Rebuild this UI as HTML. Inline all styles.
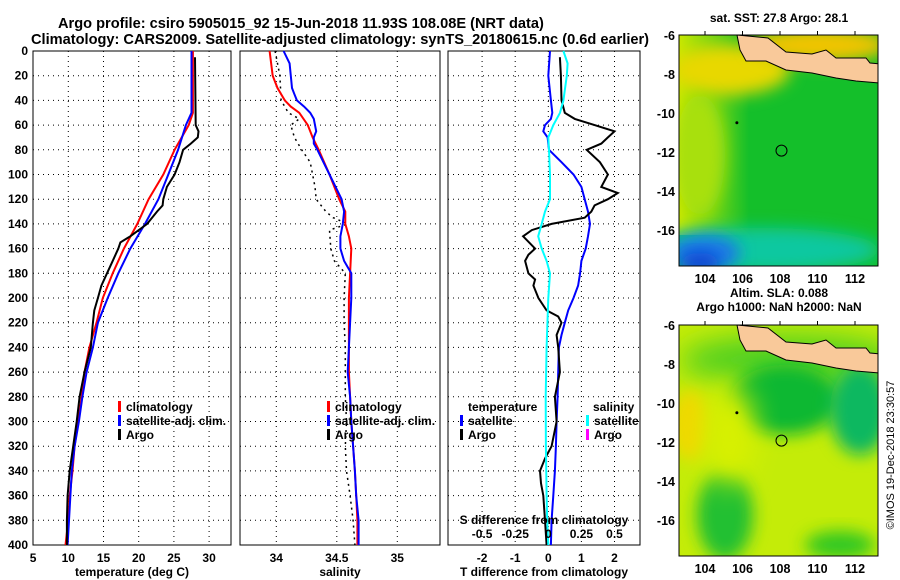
<!DOCTYPE html>
<html><head><meta charset="utf-8">
<style>
html,body{margin:0;padding:0;background:#fff;}
svg{display:block;font-family:"Liberation Sans",sans-serif;font-weight:bold;}
</style></head>
<body>
<svg id="chart" width="900" height="580" viewBox="0 0 900 580" xmlns="http://www.w3.org/2000/svg">
<defs>
<filter id="blur1" x="-50%" y="-50%" width="200%" height="200%"><feGaussianBlur stdDeviation="8"/></filter>
<filter id="blur2" x="-50%" y="-50%" width="200%" height="200%"><feGaussianBlur stdDeviation="14"/></filter>
<clipPath id="clipm1"><rect x="679" y="35" width="199" height="231"/></clipPath>
<clipPath id="clipm2"><rect x="679" y="325" width="199" height="231"/></clipPath>
<linearGradient id="leftyel" x1="0" x2="1" y1="0" y2="0"><stop offset="0" stop-color="#c8e800"/><stop offset="1" stop-color="#c8e800" stop-opacity="0"/></linearGradient>
</defs>
<text x="58" y="28" font-size="14.6">Argo profile: csiro 5905015_92 15-Jun-2018 11.93S 108.08E (NRT data)</text>
<text x="31" y="44" font-size="14.6">Climatology: CARS2009. Satellite-adjusted climatology: synTS_20180615.nc (0.6d earlier)</text>
<g id="panels"></g>
<g id="maps"></g>
<text transform="translate(894,455) rotate(-90)" font-size="11" font-weight="normal" text-anchor="middle">©IMOS 19-Dec-2018 23:30:57</text>
</svg>
<script>
// ---- data ----
const depthsT = [0,50,60,80,100,120,140,160,180,200,220,240,260,280,300,320,340,360,380,400];
const climT   = [27.7,27.7,27.1,25.1,23.5,21.4,19.8,17.9,16.3,14.9,14.0,13.0,12.3,11.9,11.4,10.9,10.6,10.2,10.0,9.6];
const satT    = [27.5,27.5,26.7,25.6,24.2,22.8,20.9,18.8,17.1,15.6,14.2,13.5,12.6,12.0,11.5,10.9,10.5,10.3,10.1,9.9];
const argoDepthT = [5,60,65,70,75,80,90,100,110,120,125,130,140,150,155,160,170,180,190,200,210,220,240,260,280,300,320,340,360,380,400];
const argoT   = [28.0,28.1,28.5,28.4,27.4,26.3,25.8,25.1,24.0,23.5,23.4,22.6,21.2,18.8,17.4,17.1,16.3,15.5,14.7,14.2,13.7,13.5,13.2,12.3,11.6,11.2,10.7,10.2,9.9,9.8,9.8];

const depthsSc = [0,20,30,40,45,50,60,70,80,100,120,130,140,150,160,180,200,240,260,280,300,320,340,360,380,400];
const climS   = [33.945,33.97,34.01,34.07,34.12,34.19,34.26,34.30,34.35,34.44,34.52,34.57,34.57,34.60,34.62,34.61,34.60,34.60,34.60,34.61,34.62,34.635,34.65,34.66,34.67,34.67];
const depthsSs = [0,10,20,30,35,40,45,50,55,60,65,70,75,80,100,120,130,140,150,160,170,175,180,200,240,260,280,300,320,340,360,380,400];
const satS    = [34.06,34.11,34.12,34.13,34.15,34.17,34.23,34.28,34.31,34.32,34.33,34.31,34.31,34.34,34.44,34.54,34.56,34.55,34.53,34.53,34.56,34.59,34.62,34.62,34.60,34.59,34.61,34.62,34.635,34.65,34.66,34.68,34.68];
const depthsSa = [0,10,20,40,50,55,60,70,80,90,100,110,120,130,135,140,145,160,170,180,200,220,240,260,280,300,320,340,360,380,400];
const argoS   = [33.99,34.01,34.03,34.04,34.10,34.19,34.12,34.15,34.21,34.28,34.30,34.32,34.33,34.41,34.47,34.59,34.44,34.45,34.48,34.57,34.56,34.56,34.57,34.57,34.57,34.58,34.57,34.58,34.61,34.635,34.65];

const depthsDT = [0,20,40,50,55,60,65,70,80,90,100,110,120,130,140,150,160,170,180,190,200,210,220,230,240,260,280,300,320,340,360,380,400];
const satDT   = [0.05,0,0.08,0.12,0.08,-0.1,-0.15,-0.02,0.02,0.4,0.76,1.0,1.1,1.2,1.26,1.2,1.13,1.0,0.96,0.9,0.76,0.6,0.5,0.4,0.32,0.3,0.28,0.25,0.23,0.2,0.15,0.1,0.08];
const depthsDA = [5,20,40,50,55,60,65,70,75,80,90,100,110,115,120,125,130,135,140,145,150,160,165,170,180,185,190,200,210,215,220,230,240,260,280,300,320,330,340,350,360,380,400];
const argoDT  = [0.35,0.38,0.4,0.5,0.8,1.4,2.0,1.8,1.6,1.16,1.56,1.8,1.6,2.1,1.8,1.4,1.3,1.1,0.1,-0.5,-0.76,-0.4,-0.6,-0.7,-0.6,-0.4,-0.45,-0.3,-0.05,0.3,0.4,0.25,0.3,0.35,0.2,0.25,0.1,-0.1,-0.25,-0.22,-0.15,-0.1,-0.05];
const depthsDS = [0,10,20,40,50,60,70,80,100,120,130,140,150,160,170,180,200,240,280,320,360,380,400];
const satDS   = [0.114,0.146,0.14,0.114,0.088,0.038,0,0.005,0.013,0.013,-0.025,-0.05,-0.076,-0.05,-0.013,0.013,0.0,-0.013,-0.02,-0.018,-0.013,-0.008,0];

const depthTicks = [0,20,40,60,80,100,120,140,160,180,200,220,240,260,280,300,320,340,360,380,400];
const tTicks = [5,10,15,20,25,30];
const sTicks = [34,34.5,35];
const sTickLabels = ["34","34.5","35"];
const dTTicks = [-2,-1,0,1,2];
const dSTicks = [-0.5,-0.25,0,0.25,0.5];
const dSTickLabels = ["-0.5","-0.25","0","0.25","0.5"];
const lonTicks = [104,106,108,110,112];
const latTicks = [-6,-8,-10,-12,-14,-16];
const argoLon = [108.08];
const argoLat = [-11.93];

// ---- helpers ----
const NS = "http://www.w3.org/2000/svg";
function mk(tag, attrs, parent){ const e=document.createElementNS(NS,tag); for(const k in attrs) e.setAttribute(k,attrs[k]); parent.appendChild(e); return e; }
const Y0=51, Y1=545;
const yD = d => Y0 + d/400*(Y1-Y0);
const xT = t => 68.3 + (t-10)*7.04;
const xS = s => 276.3 + (s-34)*121;
const xDT = v => 548.3 + v*33.1;
const xDS = v => 548.3 + v*4*33.1;
const panelsG = document.getElementById('panels');

function frame(x0,x1,name){
  const r = mk('rect',{x:x0,y:Y0,width:x1-x0,height:Y1-Y0,fill:'none',stroke:'#000','stroke-width':1},panelsG);
  
  
  depthTicks.forEach(d=>{ if(d>0&&d<400){
    const l=mk('line',{x1:x0,x2:x1,y1:yD(d),y2:yD(d),stroke:'#000','stroke-width':1,'stroke-dasharray':'1,4'},panelsG);
    
    
  }});
}
function vgrid(xs,fx,x0,x1){
  xs.forEach(v=>{ const x=fx(v); if(x>x0+1&&x<x1-1){
    const l=mk('line',{x1:x,x2:x,y1:Y0,y2:Y1,stroke:'#000','stroke-width':1,'stroke-dasharray':'1,4'},panelsG);
    
    
  }});
}
function line(ds,vs,fx,color,name,dash,w){
  const pts = ds.map((d,i)=>fx(vs[i]).toFixed(1)+','+yD(d).toFixed(1)).join(' ');
  const p = mk('polyline',{points:pts,fill:'none',stroke:color,'stroke-width':w||2},panelsG);
  if(dash) p.setAttribute('stroke-dasharray',dash);
  
  
}
function txt(x,y,s,name,opts){
  const t = mk('text',Object.assign({x:x,y:y,'font-size':12},opts||{}),panelsG);
  t.textContent=s;
  
  
  return t;
}
function legendItem(x,y,color,label){
  const r=mk('rect',{x:x,y:y-10,width:3,height:11,fill:color},panelsG);
  
  
  txt(x+8,y,label,'legend-label-'+label.replace(/[^a-z]/gi,'').toLowerCase());
}

// panel 1 temperature
frame(33,231,'temperature-panel');
vgrid(tTicks,xT,33,231);
depthTicks.forEach(d=>txt(28,yD(d)+4,String(d),'depth-tick-label',{'text-anchor':'end'}));
tTicks.forEach(t=>txt(xT(t),562,String(t),'temperature-tick-label',{'text-anchor':'middle'}));
txt(132,576,'temperature (deg C)','temperature-axis-title',{'text-anchor':'middle'});
line(depthsT,climT,xT,'#ff0000','climatology-temperature-line');
line(depthsT,satT,xT,'#0000ff','satellite-temperature-line');
line(argoDepthT,argoT,xT,'#000000','argo-temperature-line');
legendItem(118,411,'#ff0000','climatology');
legendItem(118,425,'#0000ff','satellite-adj. clim.');
legendItem(118,439,'#000000','Argo');

// panel 2 salinity
frame(240,440,'salinity-panel');
vgrid(sTicks,xS,240,440);
sTicks.forEach((s,i)=>txt(xS(s),562,sTickLabels[i],'salinity-tick-label',{'text-anchor':'middle'}));
txt(340,576,'salinity','salinity-axis-title',{'text-anchor':'middle'});
line(depthsSa,argoS,xS,'#000000','argo-salinity-line','2,4',1.5);
line(depthsSc,climS,xS,'#ff0000','climatology-salinity-line');
line(depthsSs,satS,xS,'#0000ff','satellite-salinity-line');
legendItem(327,411,'#ff0000','climatology');
legendItem(327,425,'#0000ff','satellite-adj. clim.');
legendItem(327,439,'#000000','Argo');

// panel 3 differences
frame(448,640,'difference-panel');
vgrid(dTTicks,xDT,448,640);
dTTicks.forEach(v=>txt(xDT(v),562,String(v),'t-difference-tick-label',{'text-anchor':'middle'}));
txt(544,576,'T difference from climatology','t-difference-axis-title',{'text-anchor':'middle'});
line(depthsDT,satDT,xDT,'#0000ff','satellite-t-difference-line',null,2);
line(depthsDA,argoDT,xDT,'#000000','argo-t-difference-line',null,2);
line(depthsDS,satDS,xDS,'#00ffff','satellite-s-difference-line',null,2);
txt(468,411,'temperature','legend-temperature-heading');
legendItem(460,425,'#0000ff','satellite');
legendItem(460,439,'#000000','Argo');
txt(593,411,'salinity','legend-salinity-heading');
legendItem(586,425,'#00ffff','satellite');
legendItem(586,439,'#ff00ff','Argo');
txt(544,524,'S difference from climatology','s-difference-axis-title',{'text-anchor':'middle'});
dSTicks.forEach((v,i)=>txt(xDS(v),538,dSTickLabels[i],'s-difference-tick-label',{'text-anchor':'middle'}));

// ---- maps ----
const mapsG = document.getElementById('maps');
const MX0=679;
const lonX = lon => 705 + (lon-104)*18.75;
function latY(top){ return lat => top + (-6-lat)*19.5 - 2; }
function blob(g,cx,cy,rx,ry,col,f,name){
  const e=mk('ellipse',{cx:cx,cy:cy,rx:rx,ry:ry,fill:col,filter:'url(#'+f+')'},g);
  
  
}
function drawMap(top,idx,title1,title2){
  const H=231, ly=latY(top+2);
  const g=mk('g',{'clip-path':'url(#clipm'+idx+')'},mapsG);
  
  
  if(idx===1){
    mk('rect',{x:MX0,y:top,width:199,height:H,fill:'#14bf2a'},g);
    mk('rect',{x:MX0,y:top,width:70,height:200,fill:'url(#leftyel)'},g);
    blob(g,730,top+35,60,25,'#e8d800','blur1','sst-warm-coastal');
    blob(g,820,top+10,70,18,'#f0c400','blur1','sst-java-sea');
    blob(g,700,top+120,25,60,'#a8e010','blur1','sst-west-yellow');
    blob(g,760,top+215,120,22,'#10c8a0','blur1','sst-south-cyan');
    blob(g,705,top+218,35,18,'#1e78e8','blur1','sst-cold-southwest');
    blob(g,700,top+228,20,10,'#1040d0','blur1','sst-coldest');
  } else {
    mk('rect',{x:MX0,y:top,width:199,height:H,fill:'#c4ec08'},g);
    blob(g,790,top+35,110,25,'#50d020','blur2','sla-coast-band');
    blob(g,785,top+75,55,35,'#10b830','blur1','sla-central-low');
    blob(g,860,top+85,30,45,'#10b860','blur1','sla-east-low');
    blob(g,725,top+190,28,45,'#20c030','blur1','sla-southwest-low');
    blob(g,840,top+220,35,14,'#30c820','blur1','sla-southeast-low');
    blob(g,690,top+100,20,35,'#f0d800','blur1','sla-west-high');
    blob(g,730,top+110,25,50,'#d8f000','blur2','sla-west-yellow');
  }
  const land = [[737,0],[768,3],[786,17],[812,19],[826,15],[836,23],[866,23],[870,28],[880,29],[880,48],[856,46],[836,43],[812,38],[786,35],[766,26],[746,26],[740,15]];
  const pts = land.map(p=>p[0]+','+(top+p[1])).join(' ');
  const lp = mk('polygon',{points:pts,fill:'#f9c99a',stroke:'#000','stroke-width':1},g);
  
  
  const isl = mk('circle',{cx:lonX(105.7),cy:ly(-10.5),r:1.5,fill:'#000'},g);
  
  
  const c = mk('circle',{cx:lonX(argoLon[0]),cy:ly(argoLat[0]),r:5.5,fill:'none',stroke:'#000','stroke-width':1},mapsG);
  
  
  const fr = mk('rect',{x:MX0,y:top,width:199,height:H,fill:'none',stroke:'#000','stroke-width':1},mapsG);
  
  
  lonTicks.forEach(l=>{
    const x=lonX(l);
    mk('line',{x1:x,x2:x,y1:top,y2:top-4,stroke:'#000'},mapsG);
    const t=mk('text',{x:x,y:top+H+17,'font-size':12.5,'text-anchor':'middle'},mapsG);
    t.textContent=String(l);
    
    
  });
  latTicks.forEach(l=>{
    const t=mk('text',{x:MX0-4,y:ly(l)+5,'font-size':12.5,'text-anchor':'end'},mapsG);
    t.textContent=String(l);
    
    
  });
  const tt=mk('text',{x:779,y:title2?top-28:top-13,'font-size':12,'text-anchor':'middle'},mapsG);
  tt.textContent=title1;
  
  
  if(title2){
    const t2=mk('text',{x:779,y:top-14,'font-size':12,'text-anchor':'middle'},mapsG);
    t2.textContent=title2;
    
    
  }
}
drawMap(35,1,'sat. SST: 27.8 Argo: 28.1');
drawMap(325,2,'Altim. SLA: 0.088','Argo h1000: NaN h2000: NaN');
</script>
</body></html>
